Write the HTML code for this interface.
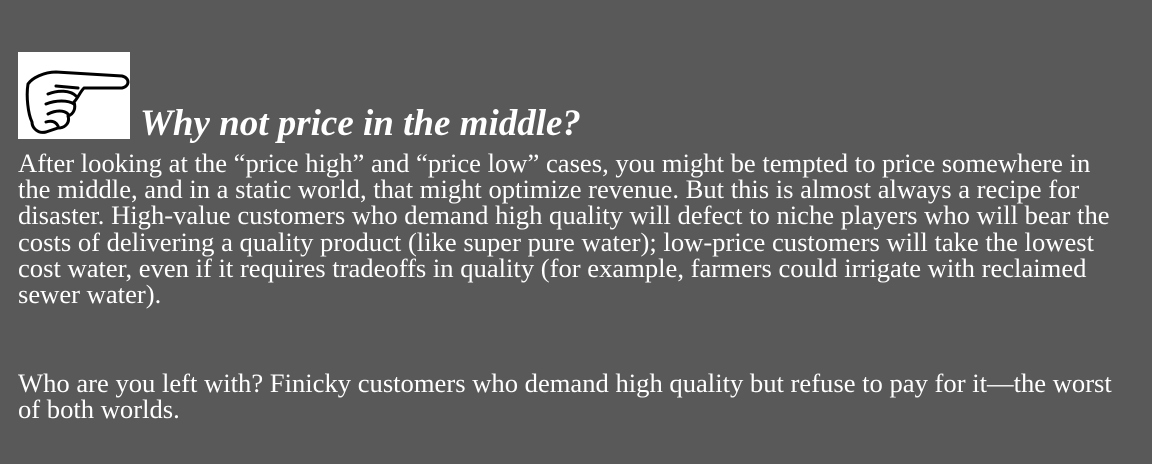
<!DOCTYPE html>
<html><head><meta charset="utf-8"><style>
body{margin:0;width:1152px;height:464px;background:#595959;overflow:hidden;font-family:"Liberation Serif",serif;color:#fff;position:relative}
.icon{position:absolute;left:18px;top:52px;width:112px;height:87px;background:#fff}
.title{position:absolute;left:140px;top:104px;font-size:37px;font-weight:bold;font-style:italic;white-space:nowrap;line-height:40px}
.p{position:absolute;left:18px;font-size:26.6px;line-height:26.2px;white-space:nowrap}
</style></head><body>
<div class="icon">
<svg width="112" height="87" viewBox="0 0 112 87">
<g fill="none" stroke="#000" stroke-width="3" stroke-linejoin="round" stroke-linecap="round">
<path d="M10 32 C14 26 26 20 38 20 L104 24 C112 26 112 34 104 36 L66 36 C62 40 60 46 56 50 C58 56 56 62 50 64 C52 70 48 76 40 76 L28 80 C20 82 14 76 14 70 C10 62 8 44 10 32 Z"/>
<path d="M38 34 L60 36 M30 42 C40 38 52 38 58 44 M28 52 C38 48 50 48 56 52 M30 62 C38 58 46 58 50 62 M28 70 C34 68 38 70 40 74"/>
</g></svg></div>
<div class="title">Why not price in the middle?</div>
<div class="p" style="top:150px">After looking at the “price high” and “price low” cases, you might be tempted to price somewhere in<br>the middle, and in a static world, that might optimize revenue. But this is almost always a recipe for<br>disaster. High-value customers who demand high quality will defect to niche players who will bear the<br>costs of delivering a quality product (like super pure water); low-price customers will take the lowest<br>cost water, even if it requires tradeoffs in quality (for example, farmers could irrigate with reclaimed<br>sewer water).</div>
<div class="p" style="top:370px">Who are you left with? Finicky customers who demand high quality but refuse to pay for it—the worst<br>of both worlds.</div>
</body></html>
